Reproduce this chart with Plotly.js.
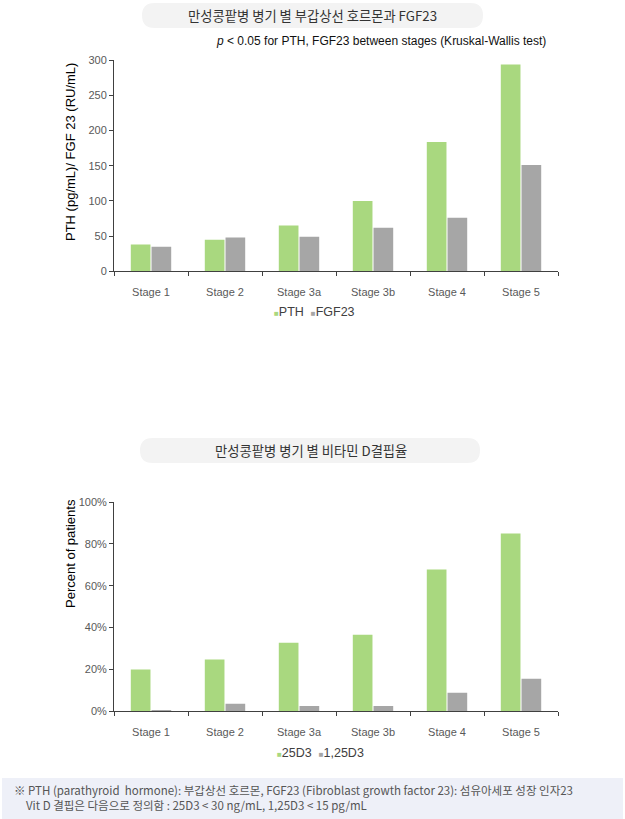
<!DOCTYPE html>
<html><head><meta charset="utf-8">
<script src="https://cdn.plot.ly/plotly-3.0.1.min.js"></script>
<style>html,body{margin:0;padding:0;background:#fff}</style>
</head><body><div id="chart" style="width:625px;height:819px"></div>
<script>
// ---- data ----
const stages = ['Stage 1','Stage 2','Stage 3a','Stage 3b','Stage 4','Stage 5'];
const pth = [38, 45, 65, 100, 184, 294];
const fgf23 = [35, 48, 49, 62, 76, 151];
const vitD25 = [20, 24.7, 32.8, 36.6, 67.7, 84.9];
const vitD125 = [0.6, 3.6, 2.5, 2.5, 8.9, 15.6];
const pthTicks = [0, 50, 100, 150, 200, 250, 300];
const pctTicks = [0, 20, 40, 60, 80, 100];
const pctTickLabels = ['0%', '20%', '40%', '60%', '80%', '100%'];

// ---- layout helpers ----
const W = 625, H = 819;
const px = x => x / W;
const py = y => 1 - y / H;
function pill(x0, y0, x1, y1) {
  const r = (y1 - y0) / 2, ym = (y0 + y1) / 2;
  const P = (x, y) => px(x) + ',' + py(y);
  return 'M' + P(x0 + r, y0) + ' L' + P(x1 - r, y0) + ' Q' + P(x1, y0) + ' ' + P(x1, ym) +
         ' Q' + P(x1, y1) + ' ' + P(x1 - r, y1) + ' L' + P(x0 + r, y1) +
         ' Q' + P(x0, y1) + ' ' + P(x0, ym) + ' Q' + P(x0, y0) + ' ' + P(x0 + r, y0) + ' Z';
}
const GREEN = '#a9d87f', GRAY = '#a6a6a6', AX = '#404040';
const FONT = 'Liberation Sans, Arial, Noto Sans CJK KR, sans-serif';
const KFONT = 'Noto Sans CJK KR, Liberation Sans, sans-serif';

const traces = [
  {type: 'bar', name: 'PTH', x: stages, y: pth, marker: {color: GREEN}, xaxis: 'x', yaxis: 'y'},
  {type: 'bar', name: 'FGF23', x: stages, y: fgf23, marker: {color: GRAY}, xaxis: 'x', yaxis: 'y'},
  {type: 'bar', name: '25D3', x: stages, y: vitD25, marker: {color: GREEN}, xaxis: 'x2', yaxis: 'y2'},
  {type: 'bar', name: '1,25D3', x: stages, y: vitD125, marker: {color: GRAY}, xaxis: 'x2', yaxis: 'y2'}
];

const xBase = {
  type: 'category', domain: [px(114), px(558)], showline: true, linecolor: AX, linewidth: 1,
  ticks: 'outside', tickson: 'boundaries', ticklen: 4, tickcolor: AX, showgrid: false,
  tickfont: {family: FONT, size: 11, color: '#595959'}, ticklabelstandoff: 10, fixedrange: true
};
const yBase = {
  showline: true, linecolor: AX, linewidth: 1, ticks: 'outside', ticklen: 4, tickcolor: AX,
  showgrid: false, zeroline: false, tickfont: {family: FONT, size: 11, color: '#595959'}, fixedrange: true
};

const layout = {
  width: W, height: H, margin: {l: 0, r: 0, t: 0, b: 0},
  paper_bgcolor: '#fff', plot_bgcolor: 'rgba(0,0,0,0)',
  showlegend: false, barmode: 'group', bargap: 0.44, bargroupgap: 0.05,
  font: {family: FONT},
  xaxis: Object.assign({}, xBase, {anchor: 'y'}),
  yaxis: Object.assign({}, yBase, {anchor: 'x', domain: [py(271.3), py(60.3)], range: [0, 300], tickmode: 'array', tickvals: pthTicks}),
  xaxis2: Object.assign({}, xBase, {anchor: 'y2'}),
  yaxis2: Object.assign({}, yBase, {anchor: 'x2', domain: [py(711.3), py(502)], range: [0, 100], tickmode: 'array', tickvals: pctTicks, ticktext: pctTickLabels}),
  shapes: [
    {type: 'path', xref: 'paper', yref: 'paper', path: pill(142, 3, 483, 28), fillcolor: '#f3f3f3', line: {width: 0}, layer: 'below'},
    {type: 'path', xref: 'paper', yref: 'paper', path: pill(140, 438, 480, 463), fillcolor: '#f3f3f3', line: {width: 0}, layer: 'below'},
    {type: 'rect', xref: 'paper', yref: 'paper', x0: px(2), x1: px(623), y0: py(778), y1: py(819), fillcolor: '#eef0f8', line: {width: 0}, layer: 'below'}
  ],
  annotations: [
    {xref: 'paper', yref: 'paper', x: px(312), y: py(15.5), showarrow: false, xanchor: 'center', yanchor: 'middle',
     text: '만성콩팥병 병기 별 부갑상선 호르몬과 FGF23', font: {family: KFONT, size: 13.3, color: '#333'}},
    {xref: 'paper', yref: 'paper', x: px(548), y: py(41), showarrow: false, xanchor: 'right', yanchor: 'middle',
     text: '<i>p</i> &lt; 0.05 for PTH, FGF23 between stages (Kruskal-Wallis test)', font: {family: FONT, size: 12, color: '#111'}},
    {xref: 'paper', yref: 'paper', x: px(70), y: py(152), showarrow: false, textangle: -90, xanchor: 'center', yanchor: 'middle',
     text: 'PTH (pg/mL)/ FGF 23 (RU/mL)', font: {family: FONT, size: 13, color: '#000'}},
    {xref: 'paper', yref: 'paper', x: px(314), y: py(312), showarrow: false, xanchor: 'center', yanchor: 'middle',
     text: '<span style="color:' + GREEN + ';font-size:8px">■</span>PTH  <span style="color:' + GRAY + ';font-size:8px">■</span>FGF23',
     font: {family: FONT, size: 12.5, color: '#404040'}},
    {xref: 'paper', yref: 'paper', x: px(311), y: py(450.5), showarrow: false, xanchor: 'center', yanchor: 'middle',
     text: '만성콩팥병 병기 별 비타민 D결핍율', font: {family: KFONT, size: 13.3, color: '#333'}},
    {xref: 'paper', yref: 'paper', x: px(70), y: py(554), showarrow: false, textangle: -90, xanchor: 'center', yanchor: 'middle',
     text: 'Percent of patients', font: {family: FONT, size: 13, color: '#000'}},
    {xref: 'paper', yref: 'paper', x: px(321), y: py(753), showarrow: false, xanchor: 'center', yanchor: 'middle',
     text: '<span style="color:' + GREEN + ';font-size:8px">■</span>25D3  <span style="color:' + GRAY + ';font-size:8px">■</span>1,25D3',
     font: {family: FONT, size: 12.5, color: '#404040'}},
    {xref: 'paper', yref: 'paper', x: px(12), y: py(790), showarrow: false, xanchor: 'left', yanchor: 'middle',
     text: '※ PTH (parathyroid  hormone): 부갑상선 호르몬, FGF23 (Fibroblast growth factor 23): 섬유아세포 성장 인자23',
     font: {family: KFONT, size: 11.5, color: '#555'}},
    {xref: 'paper', yref: 'paper', x: px(24), y: py(805), showarrow: false, xanchor: 'left', yanchor: 'middle',
     text: 'Vit D 결핍은 다음으로 정의함 : 25D3 &lt; 30 ng/mL, 1,25D3 &lt; 15 pg/mL',
     font: {family: KFONT, size: 11.5, color: '#555'}}
  ]
};

Plotly.newPlot('chart', traces, layout, {displayModeBar: false, staticPlot: true});
</script>
</body></html>
